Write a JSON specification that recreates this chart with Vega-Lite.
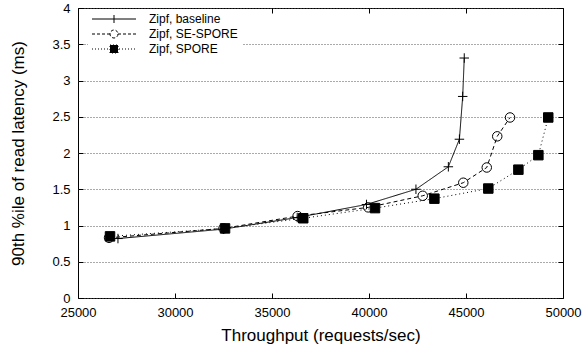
{
  "$schema": "https://vega.github.io/schema/vega-lite/v6.json",
  "width": 485,
  "height": 290,
  "autosize": {"type": "none"},
  "padding": {"left": 78, "top": 8, "right": 21, "bottom": 53},
  "background": "white",
  "config": {
    "font": "Liberation Sans",
    "view": {"stroke": "black", "strokeWidth": 1},
    "axis": {
      "labelFont": "Liberation Sans",
      "labelFontSize": 13,
      "labelColor": "black",
      "labelFlush": false,
      "titleFont": "Liberation Sans",
      "titleFontSize": 17,
      "titleFontWeight": "normal",
      "titleColor": "black",
      "domain": false,
      "tickColor": "black",
      "tickWidth": 1
    }
  },
  "data": {
    "values": [
      {"series": "Zipf, baseline", "x": 27060, "y": 0.82},
      {"series": "Zipf, baseline", "x": 32500, "y": 0.95},
      {"series": "Zipf, baseline", "x": 36300, "y": 1.11},
      {"series": "Zipf, baseline", "x": 39870, "y": 1.29},
      {"series": "Zipf, baseline", "x": 42420, "y": 1.5},
      {"series": "Zipf, baseline", "x": 44090, "y": 1.81},
      {"series": "Zipf, baseline", "x": 44660, "y": 2.19},
      {"series": "Zipf, baseline", "x": 44830, "y": 2.78},
      {"series": "Zipf, baseline", "x": 44910, "y": 3.31},
      {"series": "Zipf, SE-SPORE", "x": 26600, "y": 0.83},
      {"series": "Zipf, SE-SPORE", "x": 32500, "y": 0.96},
      {"series": "Zipf, SE-SPORE", "x": 36320, "y": 1.13},
      {"series": "Zipf, SE-SPORE", "x": 39960, "y": 1.25},
      {"series": "Zipf, SE-SPORE", "x": 42770, "y": 1.41},
      {"series": "Zipf, SE-SPORE", "x": 44860, "y": 1.59},
      {"series": "Zipf, SE-SPORE", "x": 46070, "y": 1.8},
      {"series": "Zipf, SE-SPORE", "x": 46610, "y": 2.23},
      {"series": "Zipf, SE-SPORE", "x": 47270, "y": 2.49},
      {"series": "Zipf, SPORE", "x": 26650, "y": 0.85},
      {"series": "Zipf, SPORE", "x": 32580, "y": 0.96},
      {"series": "Zipf, SPORE", "x": 36610, "y": 1.1},
      {"series": "Zipf, SPORE", "x": 40310, "y": 1.24},
      {"series": "Zipf, SPORE", "x": 43370, "y": 1.37},
      {"series": "Zipf, SPORE", "x": 46150, "y": 1.51},
      {"series": "Zipf, SPORE", "x": 47700, "y": 1.77},
      {"series": "Zipf, SPORE", "x": 48730, "y": 1.97},
      {"series": "Zipf, SPORE", "x": 49240, "y": 2.49}
    ]
  },
  "resolve": {
    "axis": {"x": "independent", "y": "independent"},
    "scale": {"shape": "independent", "fill": "independent", "strokeDash": "independent"}
  },
  "layer": [
    {
      "mark": {"type": "line", "stroke": "black", "strokeWidth": 1},
      "encoding": {
        "x": {
          "field": "x", "type": "quantitative",
          "scale": {"domain": [25000, 50000], "nice": false, "zero": false},
          "axis": {
            "orient": "bottom",
            "title": "Throughput (requests/sec)",
            "values": [25000, 30000, 35000, 40000, 45000, 50000],
            "format": "d",
            "grid": false,
            "tickSize": -5,
            "labelPadding": 13,
            "titleY": 37,
            "titleBaseline": "middle"
          }
        },
        "y": {
          "field": "y", "type": "quantitative",
          "scale": {"domain": [0, 4], "nice": false},
          "axis": {
            "orient": "left",
            "title": "90th %ile of read latency (ms)",
            "values": [0, 0.5, 1, 1.5, 2, 2.5, 3, 3.5, 4],
            "format": "~g",
            "grid": true,
            "gridColor": "#555",
            "gridDash": [1, 2],
            "gridWidth": 1,
            "tickSize": -5,
            "labelPadding": 13,
            "titleX": -60,
            "titleY": 145,
            "titleBaseline": "middle"
          }
        },
        "detail": {"field": "series"},
        "strokeDash": {
          "field": "series", "type": "nominal",
          "scale": {
            "domain": ["Zipf, baseline", "Zipf, SE-SPORE", "Zipf, SPORE"],
            "range": [[1, 0], [4, 3], [1, 3]]
          },
          "legend": null
        }
      }
    },
    {
      "mark": {"type": "point", "stroke": "black", "strokeWidth": 1, "opacity": 1, "size": 90},
      "encoding": {
        "x": {
          "field": "x", "type": "quantitative",
          "scale": {"domain": [25000, 50000], "nice": false, "zero": false},
          "axis": {"orient": "top", "title": null, "labels": false, "grid": false, "tickSize": -5, "values": [25000, 30000, 35000, 40000, 45000, 50000]}
        },
        "y": {
          "field": "y", "type": "quantitative",
          "scale": {"domain": [0, 4], "nice": false},
          "axis": {"orient": "right", "title": null, "labels": false, "grid": false, "tickSize": -5, "values": [0, 0.5, 1, 1.5, 2, 2.5, 3, 3.5, 4]}
        },
        "shape": {
          "field": "series", "type": "nominal",
          "scale": {
            "domain": ["Zipf, baseline", "Zipf, SE-SPORE", "Zipf, SPORE"],
            "range": ["M-1,0H1M0,-1V1", "circle", "square"]
          },
          "legend": null
        },
        "fill": {
          "field": "series", "type": "nominal",
          "scale": {
            "domain": ["Zipf, baseline", "Zipf, SE-SPORE", "Zipf, SPORE"],
            "range": ["transparent", "transparent", "black"]
          },
          "legend": null
        }
      }
    },
    {
      "transform": [{"filter": "datum.x < 0"}],
      "mark": {"type": "point", "stroke": "black", "strokeWidth": 1, "opacity": 1, "size": 64},
      "encoding": {
        "x": {"field": "x", "type": "quantitative", "axis": null},
        "y": {"field": "y", "type": "quantitative", "axis": null},
        "shape": {
          "field": "series", "type": "nominal",
          "scale": {
            "domain": ["Zipf, baseline", "Zipf, SE-SPORE", "Zipf, SPORE"],
            "range": [
              "M-5.5,0H5.5M0,-1V1",
              "M-5.5,0H-1M1,0H5.5M1,0A1,1 0 1,1 -1,0A1,1 0 1,1 1,0",
              "M-5.5,0H5.5M-1,-1H1V1H-1Z"
            ]
          },
          "legend": {
            "title": null,
            "orient": "none",
            "legendX": 10,
            "legendY": 1,
            "fillColor": "white",
            "padding": 4,
            "symbolOffset": 16,
            "symbolSize": 64,
            "symbolStrokeWidth": 1,
            "symbolOpacity": 1,
            "labelOffset": 29,
            "labelFont": "Liberation Sans",
            "labelFontSize": 12,
            "labelColor": "black",
            "rowPadding": 3,
            "labelLimit": 300
          }
        },
        "strokeDash": {
          "field": "series", "type": "nominal",
          "scale": {
            "domain": ["Zipf, baseline", "Zipf, SE-SPORE", "Zipf, SPORE"],
            "range": [[1, 0], [3, 2], [1, 2]]
          },
          "legend": {"title": null}
        },
        "fill": {
          "field": "series", "type": "nominal",
          "scale": {
            "domain": ["Zipf, baseline", "Zipf, SE-SPORE", "Zipf, SPORE"],
            "range": ["transparent", "transparent", "black"]
          },
          "legend": {"title": null}
        }
      }
    }
  ]
}
